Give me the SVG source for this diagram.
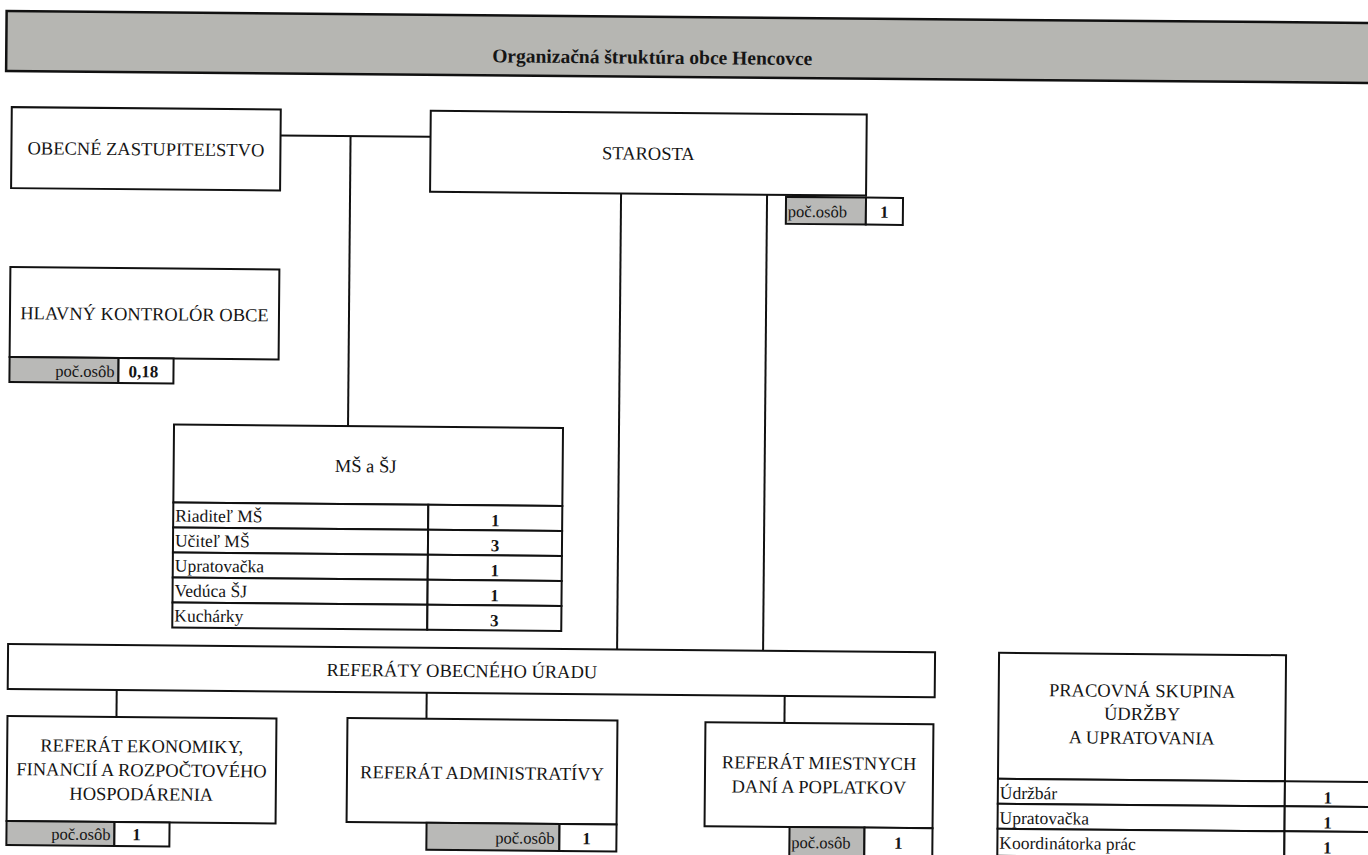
<svg xmlns="http://www.w3.org/2000/svg" width="1368" height="855" viewBox="0 0 1368 855">
<defs>
<style>
.box{fill:#fff;stroke:#111;stroke-width:2}
.gray{fill:#b9b9b7;stroke:#111;stroke-width:2}
.bar{fill:#b6b6b2;stroke:#111;stroke-width:2.5}
text{font-family:"Liberation Serif","DejaVu Serif",serif;fill:#151515}
.t{font-size:18.5px;text-anchor:middle}
.title{font-size:19.5px;font-weight:bold;text-anchor:middle}
.r{font-size:17.5px;text-anchor:start}
.n{font-size:17px;font-weight:bold;text-anchor:middle}
.p{font-size:16.5px}
.pe{text-anchor:end}
.ps{text-anchor:start}
.conn line{stroke:#111;stroke-width:2}
</style>
</defs>
<rect x="0" y="0" width="1368" height="855" fill="#fff"/>
<g transform="rotate(0.5 684 430)">
<g id="title">
<rect class="bar" x="3" y="17" width="1400" height="60"/>
<text class="title" x="649" y="64">Organizačná štruktúra obce Hencovce</text>
</g>
<g id="connectors" class="conn">
<line x1="278" y1="139" x2="428" y2="139"/>
<line x1="348" y1="139" x2="348" y2="429"/>
<line x1="619" y1="194" x2="619" y2="650"/>
<line x1="765" y1="194" x2="765" y2="650"/>
<line x1="119" y1="695" x2="119" y2="722"/>
<line x1="429" y1="695" x2="429" y2="721"/>
<line x1="787" y1="695" x2="787" y2="722"/>
</g>
<g id="zastupitelstvo">
<rect class="box" x="9" y="113" width="269" height="81"/>
<text class="t" x="143.5" y="160">OBECNÉ ZASTUPITEĽSTVO</text>
</g>
<g id="starosta">
<rect class="box" x="428" y="113" width="436" height="81"/>
<text class="t" x="646" y="160">STAROSTA</text>
<rect class="gray" x="784" y="196" width="80" height="27"/>
<rect class="box" x="864" y="196" width="37" height="27"/>
<text class="p ps" x="786" y="216">poč.osôb</text>
<text class="n" x="882.5" y="216">1</text>
</g>
<g id="kontrolor">
<rect class="box" x="9" y="273" width="269" height="90"/>
<text class="t" x="143.5" y="325">HLAVNÝ KONTROLÓR OBCE</text>
<rect class="gray" x="9" y="363" width="109" height="25"/>
<rect class="box" x="118" y="363" width="55" height="25"/>
<text class="p pe" x="114" y="382">poč.osôb</text>
<text class="n" x="143" y="382">0,18</text>
</g>
<g id="ms-sj">
<rect class="box" x="174" y="429" width="389" height="78"/>
<text class="t" x="366" y="475">MŠ a ŠJ</text>
<rect class="box" x="174" y="507" width="255" height="25"/><rect class="box" x="429" y="507" width="134" height="25"/>
<rect class="box" x="174" y="532" width="255" height="25"/><rect class="box" x="429" y="532" width="134" height="25"/>
<rect class="box" x="174" y="557" width="255" height="25"/><rect class="box" x="429" y="557" width="134" height="25"/>
<rect class="box" x="174" y="582" width="255" height="25"/><rect class="box" x="429" y="582" width="134" height="25"/>
<rect class="box" x="174" y="607" width="255" height="25"/><rect class="box" x="429" y="607" width="134" height="25"/>
<text class="r" x="176" y="526">Riaditeľ MŠ</text><text class="n" x="496" y="528">1</text>
<text class="r" x="176" y="551">Učiteľ MŠ</text><text class="n" x="496" y="553">3</text>
<text class="r" x="176" y="576">Upratovačka</text><text class="n" x="496" y="578">1</text>
<text class="r" x="176" y="601">Vedúca ŠJ</text><text class="n" x="496" y="603">1</text>
<text class="r" x="176" y="626">Kuchárky</text><text class="n" x="496" y="628">3</text>
</g>
<g id="referaty">
<rect class="box" x="10" y="650" width="927" height="45"/>
<text class="t" x="464" y="679">REFERÁTY OBECNÉHO ÚRADU</text>
</g>
<g id="ekonomika">
<rect class="box" x="10" y="722" width="269" height="105"/>
<text class="t" x="144.5" y="757">REFERÁT EKONOMIKY,</text>
<text class="t" x="144.5" y="781">FINANCIÍ A ROZPOČTOVÉHO</text>
<text class="t" x="144.5" y="805">HOSPODÁRENIA</text>
<rect class="gray" x="10" y="827" width="108" height="24"/>
<rect class="box" x="118" y="827" width="55" height="24"/>
<text class="p pe" x="114" y="845">poč.osôb</text>
<text class="n" x="140" y="845">1</text>
</g>
<g id="administrativa">
<rect class="box" x="350" y="721" width="270" height="104"/>
<text class="t" x="485" y="781">REFERÁT ADMINISTRATÍVY</text>
<rect class="gray" x="430" y="825" width="133" height="27"/>
<rect class="box" x="563" y="825" width="57" height="27"/>
<text class="p pe" x="558" y="845">poč.osôb</text>
<text class="n" x="590" y="845">1</text>
</g>
<g id="miestne-dane">
<rect class="box" x="708" y="722" width="228" height="104"/>
<text class="t" x="822" y="768">REFERÁT MIESTNYCH</text>
<text class="t" x="822" y="792">DANÍ A POPLATKOV</text>
<rect class="gray" x="793" y="826" width="75" height="32"/>
<rect class="box" x="868" y="826" width="68" height="32"/>
<text class="p ps" x="795" y="847">poč.osôb</text>
<text class="n" x="902" y="847">1</text>
</g>
<g id="pracovna-skupina">
<rect class="box" x="1001" y="650" width="287" height="126"/>
<text class="t" x="1144.5" y="693">PRACOVNÁ SKUPINA</text>
<text class="t" x="1144.5" y="716">ÚDRŽBY</text>
<text class="t" x="1144.5" y="740">A UPRATOVANIA</text>
<rect class="box" x="1001" y="776" width="287" height="25"/><rect class="box" x="1288" y="776" width="120" height="25"/>
<rect class="box" x="1001" y="801" width="287" height="25"/><rect class="box" x="1288" y="801" width="120" height="25"/>
<rect class="box" x="1001" y="826" width="287" height="27"/><rect class="box" x="1288" y="826" width="120" height="27"/>
<text class="r" x="1003" y="796">Údržbár</text><text class="n" x="1331" y="798">1</text>
<text class="r" x="1003" y="821">Upratovačka</text><text class="n" x="1331" y="823">1</text>
<text class="r" x="1003" y="846">Koordinátorka prác</text><text class="n" x="1331" y="848">1</text>
</g>
</g>
</svg>
